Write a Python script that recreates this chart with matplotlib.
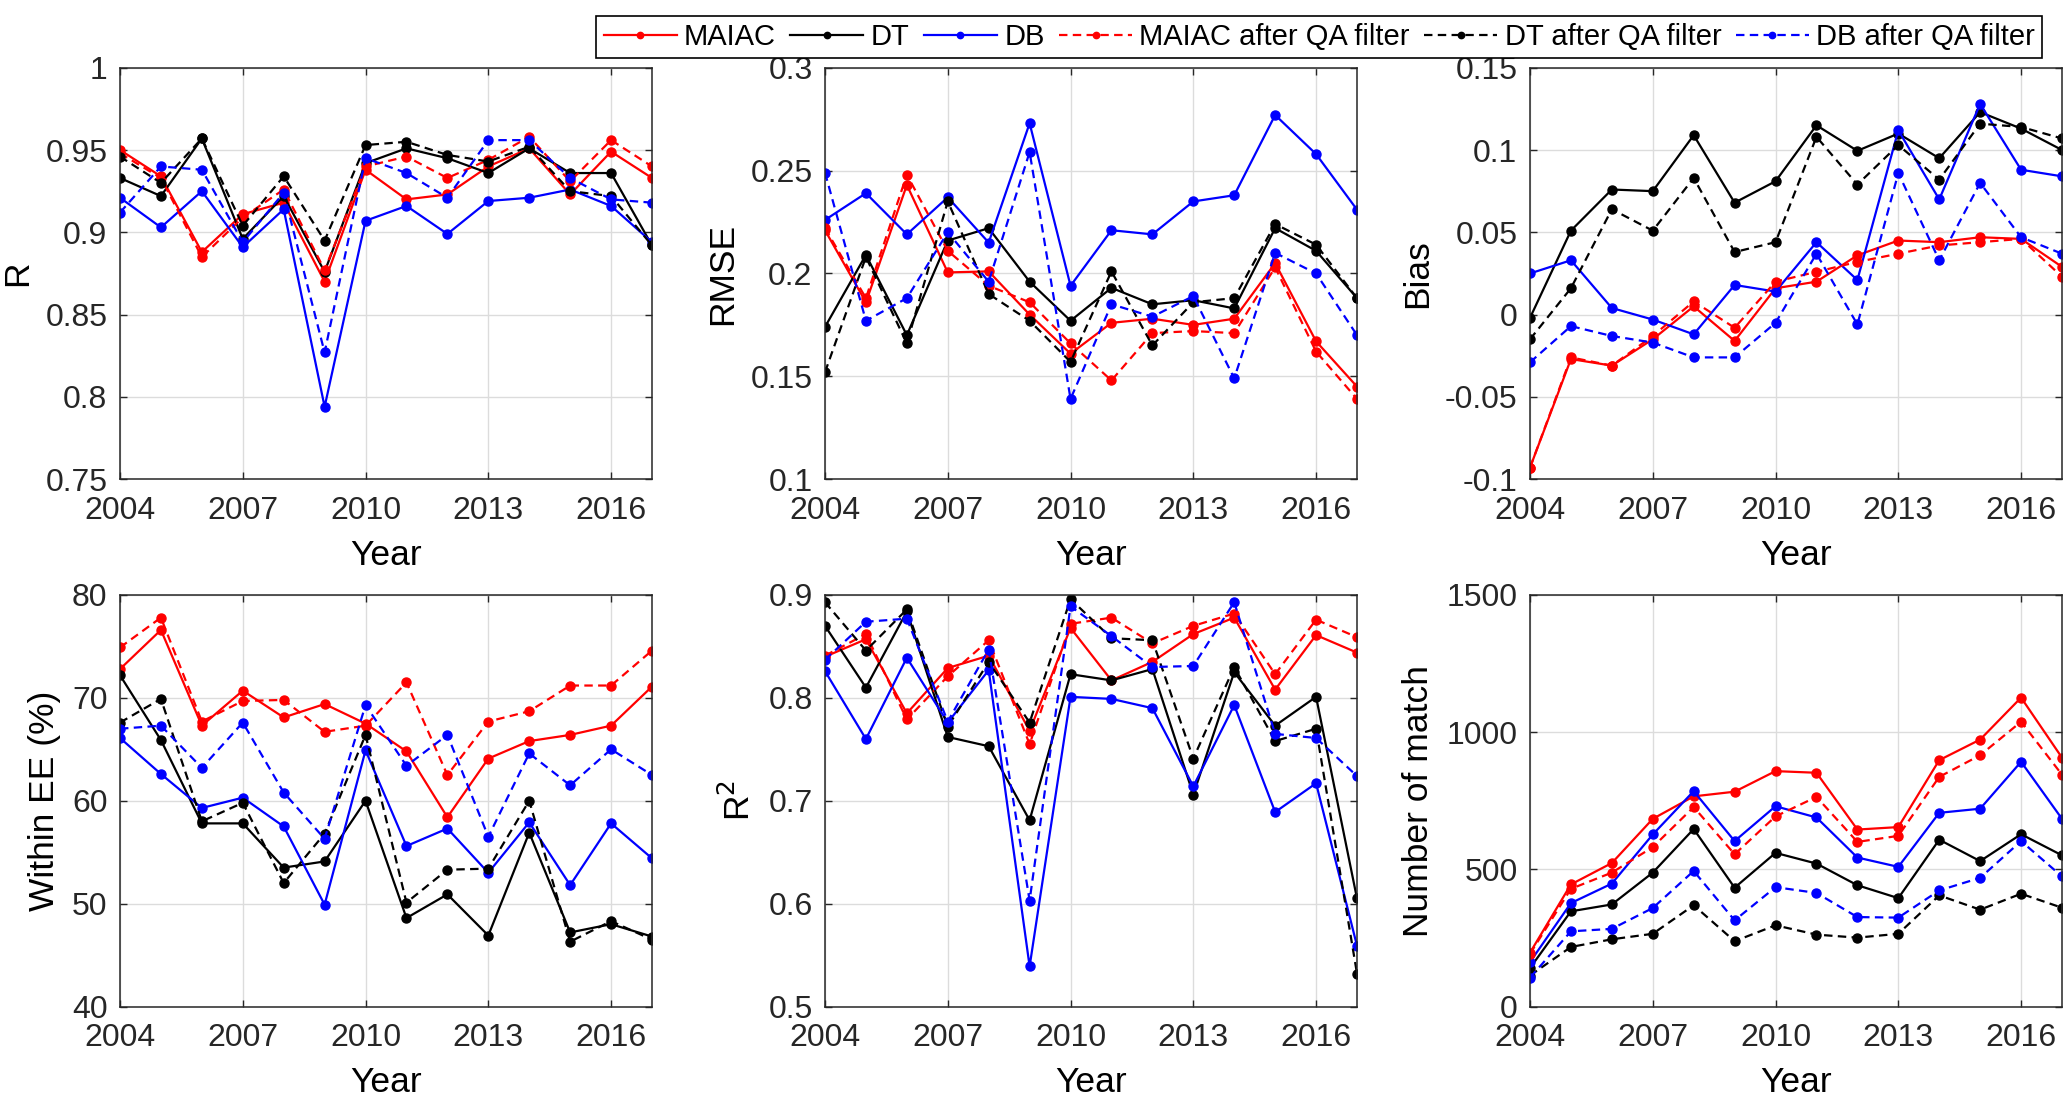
import matplotlib.pyplot as plt

plt.rcParams['font.family'] = ['Liberation Sans', 'DejaVu Sans']
plt.rcParams['axes.unicode_minus'] = False

years = list(range(2004, 2018))
year_ticks = [2004, 2007, 2010, 2013, 2016]

# R
r_maiac = [0.950, 0.934, 0.888, 0.911, 0.918, 0.870, 0.938, 0.920, 0.923, 0.940, 0.951, 0.923, 0.949, 0.933]
r_dt = [0.933, 0.922, 0.957, 0.896, 0.922, 0.876, 0.942, 0.951, 0.945, 0.936, 0.951, 0.936, 0.936, 0.892]
r_db = [0.921, 0.903, 0.925, 0.891, 0.914, 0.794, 0.907, 0.916, 0.899, 0.919, 0.921, 0.926, 0.916, 0.894]
r_maiac_qa = [0.948, 0.933, 0.885, 0.909, 0.926, 0.877, 0.940, 0.946, 0.933, 0.944, 0.958, 0.931, 0.956, 0.940]
r_dt_qa = [0.946, 0.930, 0.957, 0.904, 0.934, 0.895, 0.953, 0.955, 0.947, 0.943, 0.952, 0.925, 0.922, 0.892]
r_db_qa = [0.912, 0.940, 0.938, 0.894, 0.924, 0.827, 0.945, 0.936, 0.921, 0.956, 0.956, 0.933, 0.920, 0.918]

# RMSE
rmse_maiac = [0.221, 0.186, 0.243, 0.2005, 0.201, 0.180, 0.161, 0.176, 0.178, 0.175, 0.178, 0.205, 0.167, 0.145]
rmse_dt = [0.174, 0.209, 0.170, 0.216, 0.222, 0.196, 0.177, 0.193, 0.185, 0.187, 0.183, 0.222, 0.211, 0.188]
rmse_db = [0.226, 0.239, 0.219, 0.237, 0.215, 0.273, 0.194, 0.221, 0.219, 0.235, 0.238, 0.277, 0.258, 0.231]
rmse_maiac_qa = [0.222, 0.188, 0.248, 0.211, 0.194, 0.186, 0.166, 0.148, 0.171, 0.172, 0.171, 0.203, 0.162, 0.139]
rmse_dt_qa = [0.152, 0.208, 0.166, 0.235, 0.190, 0.177, 0.157, 0.201, 0.165, 0.186, 0.188, 0.224, 0.214, 0.188]
rmse_db_qa = [0.249, 0.177, 0.188, 0.220, 0.196, 0.259, 0.139, 0.185, 0.179, 0.189, 0.149, 0.210, 0.200, 0.170]

# Bias
bias_maiac = [-0.093, -0.027, -0.031, -0.015, 0.005, -0.016, 0.016, 0.020, 0.036, 0.045, 0.044, 0.047, 0.046, 0.029]
bias_dt = [-0.002, 0.051, 0.076, 0.075, 0.109, 0.068, 0.081, 0.115, 0.0995, 0.110, 0.095, 0.123, 0.113, 0.100]
bias_db = [0.025, 0.033, 0.004, -0.003, -0.012, 0.018, 0.014, 0.044, 0.021, 0.112, 0.070, 0.128, 0.088, 0.084]
bias_maiac_qa = [-0.093, -0.026, -0.031, -0.013, 0.008, -0.008, 0.020, 0.026, 0.032, 0.037, 0.042, 0.044, 0.046, 0.023]
bias_dt_qa = [-0.015, 0.016, 0.064, 0.051, 0.083, 0.038, 0.044, 0.108, 0.079, 0.103, 0.082, 0.116, 0.114, 0.107]
bias_db_qa = [-0.029, -0.007, -0.013, -0.017, -0.026, -0.026, -0.005, 0.037, -0.006, 0.086, 0.033, 0.080, 0.047, 0.037]

# Within EE (%)
ee_maiac = [72.8, 76.6, 67.3, 70.7, 68.1, 69.4, 67.5, 64.8, 58.4, 64.1, 65.8, 66.4, 67.3, 71.1]
ee_dt = [72.2, 65.9, 57.8, 57.8, 53.5, 54.1, 60.0, 48.6, 50.9, 46.9, 56.9, 47.2, 48.0, 46.8]
ee_db = [66.1, 62.6, 59.3, 60.3, 57.5, 49.9, 64.9, 55.6, 57.3, 53.0, 57.9, 51.8, 57.8, 54.4]
ee_maiac_qa = [74.9, 77.8, 67.7, 69.7, 69.8, 66.7, 67.3, 71.5, 62.5, 67.7, 68.7, 71.2, 71.2, 74.6]
ee_dt_qa = [67.6, 69.9, 58.0, 59.8, 52.0, 56.8, 66.4, 50.1, 53.3, 53.4, 60.0, 46.3, 48.3, 46.5]
ee_db_qa = [67.0, 67.3, 63.2, 67.6, 60.8, 56.3, 69.3, 63.4, 66.4, 56.5, 64.6, 61.5, 65.0, 62.5]

# R^2
r2_maiac = [0.840, 0.857, 0.785, 0.829, 0.841, 0.768, 0.868, 0.817, 0.835, 0.862, 0.878, 0.808, 0.861, 0.844]
r2_dt = [0.870, 0.810, 0.884, 0.762, 0.753, 0.681, 0.823, 0.817, 0.828, 0.706, 0.825, 0.773, 0.801, 0.605]
r2_db = [0.826, 0.760, 0.839, 0.776, 0.827, 0.539, 0.801, 0.799, 0.790, 0.714, 0.793, 0.689, 0.717, 0.559]
r2_maiac_qa = [0.841, 0.862, 0.779, 0.821, 0.856, 0.755, 0.872, 0.878, 0.853, 0.870, 0.882, 0.823, 0.876, 0.859]
r2_dt_qa = [0.893, 0.846, 0.886, 0.772, 0.835, 0.776, 0.896, 0.858, 0.856, 0.741, 0.830, 0.758, 0.770, 0.532]
r2_db_qa = [0.837, 0.874, 0.877, 0.777, 0.847, 0.603, 0.889, 0.860, 0.830, 0.831, 0.893, 0.765, 0.761, 0.724]

# Number of match
n_maiac = [196, 445, 523, 684, 766, 783, 858, 852, 645, 654, 898, 973, 1126, 907]
n_dt = [140, 347, 372, 488, 647, 433, 560, 521, 442, 395, 608, 530, 628, 551]
n_db = [162, 377, 448, 627, 785, 603, 730, 689, 543, 509, 706, 721, 892, 684]
n_maiac_qa = [192, 429, 488, 581, 727, 555, 693, 764, 600, 622, 837, 916, 1038, 845]
n_dt_qa = [113, 217, 245, 265, 369, 238, 296, 262, 251, 265, 405, 353, 411, 360]
n_db_qa = [105, 274, 283, 359, 494, 314, 435, 414, 326, 324, 423, 469, 603, 474]

series_names = ['MAIAC', 'DT', 'DB', 'MAIAC after QA filter', 'DT after QA filter', 'DB after QA filter']
series_colors = ['#ff0000', 'black', '#0000ff', '#ff0000', 'black', '#0000ff']
dash = (0, (3.8, 2.4))
series_styles = ['-', '-', '-', dash, dash, dash]

panels = [
    ('R', (0.75, 1.0), [0.75, 0.8, 0.85, 0.9, 0.95, 1.0],
     [r_maiac, r_dt, r_db, r_maiac_qa, r_dt_qa, r_db_qa]),
    ('RMSE', (0.1, 0.3), [0.1, 0.15, 0.2, 0.25, 0.3],
     [rmse_maiac, rmse_dt, rmse_db, rmse_maiac_qa, rmse_dt_qa, rmse_db_qa]),
    ('Bias', (-0.1, 0.15), [-0.1, -0.05, 0, 0.05, 0.1, 0.15],
     [bias_maiac, bias_dt, bias_db, bias_maiac_qa, bias_dt_qa, bias_db_qa]),
    ('Within EE (%)', (40, 80), [40, 50, 60, 70, 80],
     [ee_maiac, ee_dt, ee_db, ee_maiac_qa, ee_dt_qa, ee_db_qa]),
    ('R$^2$', (0.5, 0.9), [0.5, 0.6, 0.7, 0.8, 0.9],
     [r2_maiac, r2_dt, r2_db, r2_maiac_qa, r2_dt_qa, r2_db_qa]),
    ('Number of match', (0, 1500), [0, 500, 1000, 1500],
     [n_maiac, n_dt, n_db, n_maiac_qa, n_dt_qa, n_db_qa]),
]

W, H = 2067, 1099
fig = plt.figure(figsize=(W / 100, H / 100), dpi=100)

col_left = [120, 825, 1530]
row_top = [67.7, 595]
ax_w, ax_h = 532, 411.5

handles = []
for i, (ylabel, ylim, yticks, data) in enumerate(panels):
    row, col = divmod(i, 3)
    l = col_left[col] / W
    b = 1 - (row_top[row] + ax_h) / H
    ax = fig.add_axes([l, b, ax_w / W, ax_h / H])
    for k in range(6):
        ln, = ax.plot(years, data[k], color=series_colors[k], linestyle=series_styles[k],
                      linewidth=1.6, marker='o', markersize=6.5, label=series_names[k])
        if i == 0:
            handles.append(ln)
    ax.set_xlim(2004, 2017)
    ax.set_ylim(*ylim)
    ax.set_xticks(year_ticks)
    ax.set_yticks(yticks)
    ax.set_yticklabels(['{:g}'.format(t) for t in yticks])
    ax.grid(True, color='#dcdcdc', linewidth=1.0)
    ax.set_axisbelow(True)
    ax.tick_params(direction='in', top=True, right=True, length=5, width=1,
                   labelsize=23, colors='#262626')
    ax.tick_params(axis='x', pad=12)
    ax.tick_params(axis='y', pad=9)
    for sp in ax.spines.values():
        sp.set_color('#262626')
        sp.set_linewidth(1.1)
    ax.set_xlabel('Year', fontsize=25.5, labelpad=9.5)
    ax.set_ylabel(ylabel, fontsize=25.5, labelpad=8)

leg = fig.legend(handles, series_names, loc='upper right',
                 bbox_to_anchor=(2057 / W, 1 - 1 / H), ncol=6, fontsize=21,
                 frameon=True, fancybox=False, edgecolor='black', framealpha=1,
                 handlelength=2.5, handletextpad=0.25, columnspacing=0.5,
                 borderpad=0.25, markerscale=0.7)
leg.get_frame().set_linewidth(1.2)

fig.savefig('out.png', dpi=100)
